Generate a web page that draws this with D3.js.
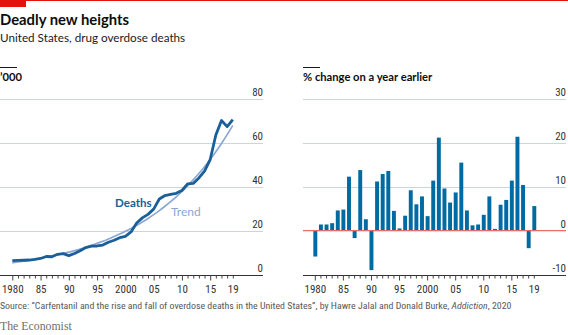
<!DOCTYPE html>
<html><head><meta charset="utf-8">
<script src="https://cdn.jsdelivr.net/npm/d3@7"></script>
<style>
html,body{margin:0;padding:0;background:#fff;}
svg{display:block;}
</style></head>
<body>
<svg id="c" width="568" height="335"></svg>
<script>
// ---------- data ----------
const years = [1980,1981,1982,1983,1984,1985,1986,1987,1988,1989,
               1990,1991,1992,1993,1994,1995,1996,1997,1998,1999,
               2000,2001,2002,2003,2004,2005,2006,2007,2008,2009,
               2010,2011,2012,2013,2014,2015,2016,2017,2018,2019];
// deaths, '000
const deaths = [6.3,6.4,6.5,6.6,6.9,7.3,8.2,8.1,9.2,9.5,
                8.6,9.6,10.8,12.3,12.9,13.0,13.4,14.7,15.6,16.8,
                17.4,19.4,23.5,25.8,27.4,29.8,34.4,36.0,36.5,37.0,
                38.3,41.3,41.5,44.0,47.1,52.4,63.6,70.2,67.4,70.6];
// fitted trend, '000
const trend = [5.3,5.7,6.1,6.5,6.9,7.4,7.9,8.4,9.0,9.6,
               10.2,10.9,11.6,12.4,13.3,14.2,15.1,16.2,17.3,18.4,
               19.7,21.0,22.4,23.9,25.5,27.3,29.1,31.1,33.2,35.4,
               37.8,40.4,43.1,46.0,49.1,52.4,55.9,59.7,63.7,68.0];
// % change on a year earlier
const pctChange = [-5.9,1.4,1.4,1.7,4.6,4.8,12.3,-1.7,13.8,2.6,
                   -9.0,11.2,12.9,13.6,4.5,0.5,3.4,9.2,6.0,7.8,
                   3.3,11.4,21.2,9.6,6.4,8.7,15.5,4.6,1.2,1.4,
                   3.6,7.8,0.4,5.9,7.0,11.4,21.4,10.4,-4.0,5.6];
const leftTicks = [0,20,40,60,80];
const rightTicks = [-10,0,10,20,30];
const xTickLabels = {1980:"1980",1985:"85",1990:"90",1995:"95",2000:"2000",2005:"05",2010:"10",2015:"15",2019:"19"};

// ---------- styles ----------
const SANS = "Lato, 'Open Sans', sans-serif";
const NARROW = "'Liberation Sans Narrow', 'Roboto Condensed', 'DejaVu Sans Condensed', Roboto, sans-serif";
const BLUE = "#006ba2", LINE = "#1a5f97", TREND = "#8ba8d4", GRID = "#cad5dc", RED = "#e3120b";

const svg = d3.select("#c");

// top red strip
svg.append("rect").attr("x",0).attr("y",0).attr("width",568).attr("height",1).attr("fill",RED);
svg.append("rect").attr("x",0).attr("y",0).attr("width",26).attr("height",7).attr("fill",RED);

svg.append("text").attr("x",0).attr("y",25).text("Deadly new heights")
  .style("font-family",SANS).style("font-weight",700).style("font-size","14.8px").attr("fill","#0d0d0d");
svg.append("text").attr("x",0).attr("y",41.5).text("United States, drug overdose deaths")
  .style("font-family",SANS).style("font-size","11.7px").attr("fill","#1a1a1a");

// panel headers
function header(x, label){
  svg.append("line").attr("x1",x).attr("x2",x+17).attr("y1",67.5).attr("y2",67.5)
    .attr("stroke","#1a1a1a").attr("stroke-width",1);
  svg.append("text").attr("x",x).attr("y",81).text(label)
    .style("font-family",SANS).style("font-weight",700).style("font-size","11.2px").attr("fill","#0d0d0d");
}
header(0,"\u2019000");
header(303,"% change on a year earlier");

const yTop = 99, yBot = 274.5;

function xAxis(g, scale){
  const ax = d3.axisBottom(scale).tickValues(years).tickSize(3).tickPadding(0)
    .tickFormat(d => xTickLabels[d] || "");
  g.call(ax);
  g.select(".domain").remove();
  g.selectAll(".tick line").attr("stroke","#444").attr("y2", d => (d%5===0) ? 5 : 3);
  g.selectAll(".tick text").attr("y",17.5).attr("dy",0)
    .style("font-family",NARROW).style("font-size","11px").attr("fill","#333");
}

// ---------- left panel ----------
const L0 = 0, L1 = 263;
const xL = d3.scaleLinear().domain([1980,2019]).range([12.3, 232.8]);
const yL = d3.scaleLinear().domain([0,80]).range([yBot, yTop]);

const gL = svg.append("g");
gL.selectAll("line.grid").data(leftTicks.filter(d=>d!==0)).join("line")
  .attr("x1",L0).attr("x2",L1).attr("y1",d=>Math.round(yL(d))+0.5).attr("y2",d=>Math.round(yL(d))+0.5)
  .attr("stroke",GRID).attr("stroke-width",1);
gL.append("line").attr("x1",L0).attr("x2",L1).attr("y1",Math.round(yL(0))+0.5).attr("y2",Math.round(yL(0))+0.5)
  .attr("stroke","#333").attr("stroke-width",1);
gL.selectAll("text.yl").data(leftTicks).join("text")
  .attr("x",L1).attr("y",d=>yL(d)-3).attr("text-anchor","end").text(d=>d)
  .style("font-family",NARROW).style("font-size","11px").attr("fill","#333");

const lineGen = d3.line().x((d,i)=>xL(years[i])).y(d=>yL(d));
gL.append("path").attr("d", d3.line().x((d,i)=>xL(years[i])).y(d=>yL(d)).curve(d3.curveBasis)(trend))
  .attr("fill","none").attr("stroke",TREND).attr("stroke-width",1.7);
gL.append("path").attr("d", lineGen(deaths))
  .attr("fill","none").attr("stroke",LINE).attr("stroke-width",2.8)
  .attr("stroke-linejoin","round").attr("stroke-linecap","butt");

gL.append("text").attr("x",115).attr("y",207).text("Deaths")
  .style("font-family",SANS).style("font-weight",700).style("font-size","11.6px").attr("fill",LINE);
gL.append("text").attr("x",171).attr("y",216).text("Trend")
  .style("font-family",SANS).style("font-size","12px").attr("fill",TREND);

const gLx = svg.append("g").attr("transform",`translate(0,${Math.round(yL(0))+0.5})`);
xAxis(gLx, xL);

// ---------- right panel ----------
const R0 = 303, R1 = 566;
const xR = d3.scaleBand().domain(years).range([312.5, 537.1]).paddingInner(0.3).paddingOuter(0.15);
const yR = d3.scaleLinear().domain([-10,30]).range([yBot, yTop]);

const gR = svg.append("g");
gR.selectAll("line.grid").data(rightTicks.filter(d=>d>0)).join("line")
  .attr("x1",R0).attr("x2",R1).attr("y1",d=>Math.round(yR(d))+0.5).attr("y2",d=>Math.round(yR(d))+0.5)
  .attr("stroke",GRID).attr("stroke-width",1);
gR.append("line").attr("x1",R0).attr("x2",R1).attr("y1",Math.round(yR(-10))+0.5).attr("y2",Math.round(yR(-10))+0.5)
  .attr("stroke","#333").attr("stroke-width",1);
gR.selectAll("rect.bar").data(pctChange).join("rect")
  .attr("x",(d,i)=>xR(years[i])).attr("width",xR.bandwidth())
  .attr("y",d=>yR(Math.max(0,d))).attr("height",d=>Math.abs(yR(d)-yR(0)))
  .attr("fill",BLUE);
gR.append("line").attr("x1",R0).attr("x2",R1).attr("y1",yR(0)).attr("y2",yR(0))
  .attr("stroke","#ee6a6a").attr("stroke-width",1.2);
gR.selectAll("text.yl").data(rightTicks).join("text")
  .attr("x",R1).attr("y",d=>yR(d)-3).attr("text-anchor","end").text(d=>d)
  .style("font-family",NARROW).style("font-size","11px").attr("fill","#333");

const gRx = svg.append("g").attr("transform",`translate(0,${Math.round(yR(-10))+0.5})`);
xAxis(gRx, xR);

// ---------- footer ----------
const src = svg.append("text").attr("x",0).attr("y",309)
  .style("font-family",NARROW).style("font-size","9.9px").attr("fill","#595959");
src.append("tspan").text("Source: \u201cCarfentanil and the rise and fall of overdose deaths in the United States\u201d, by Hawre Jalal and Donald Burke, ");
src.append("tspan").style("font-style","italic").text("Addiction");
src.append("tspan").text(", 2020");

svg.append("text").attr("x",0).attr("y",330).text("The Economist")
  .style("font-family","'Liberation Serif', 'DejaVu Serif', serif").style("font-size","11.8px").attr("fill","#6e6e6e");
</script>
</body></html>
